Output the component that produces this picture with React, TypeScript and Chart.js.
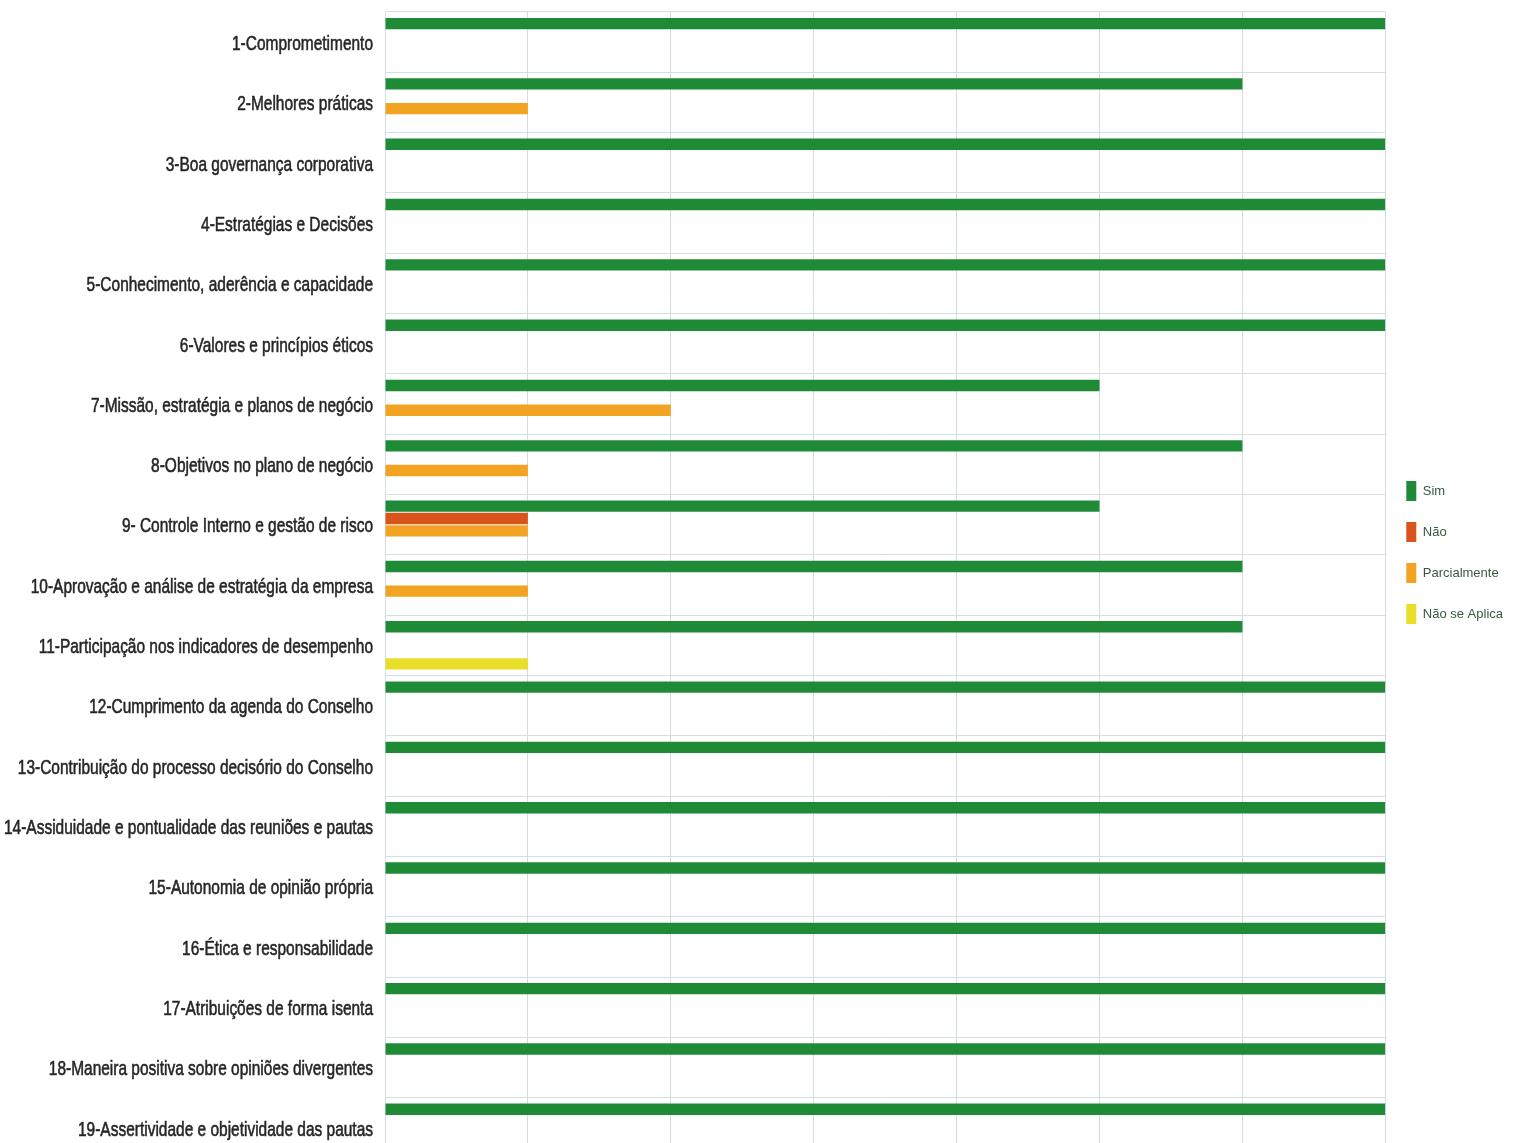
import React, { useEffect, useRef } from "react";
import { Chart, registerables } from "chart.js";

Chart.register(...registerables);

const categories = [
  "1-Comprometimento",
  "2-Melhores práticas",
  "3-Boa governança corporativa",
  "4-Estratégias e Decisões",
  "5-Conhecimento, aderência e capacidade",
  "6-Valores e princípios éticos",
  "7-Missão, estratégia e planos de negócio",
  "8-Objetivos no plano de negócio",
  "9- Controle Interno e gestão de risco",
  "10-Aprovação e análise de estratégia da empresa",
  "11-Participação nos indicadores de desempenho",
  "12-Cumprimento da agenda do Conselho",
  "13-Contribuição do processo decisório do Conselho",
  "14-Assiduidade e pontualidade das reuniões e pautas",
  "15-Autonomia de opinião própria",
  "16-Ética e responsabilidade",
  "17-Atribuições de forma isenta",
  "18-Maneira positiva sobre opiniões divergentes",
  "19-Assertividade e objetividade das pautas",
];

const sim = [7, 6, 7, 7, 7, 7, 5, 6, 5, 6, 6, 7, 7, 7, 7, 7, 7, 7, 7];
const nao = [0, 0, 0, 0, 0, 0, 0, 0, 1, 0, 0, 0, 0, 0, 0, 0, 0, 0, 0];
const parcialmente = [0, 1, 0, 0, 0, 0, 2, 1, 1, 1, 0, 0, 0, 0, 0, 0, 0, 0, 0];
const naoSeAplica = [0, 0, 0, 0, 0, 0, 0, 0, 0, 0, 1, 0, 0, 0, 0, 0, 0, 0, 0];

const seriesNames = ["Sim", "Não", "Parcialmente", "Não se Aplica"];
const seriesColors = ["#1f8b37", "#d9531c", "#f2a322", "#e9de2a"];

const LABEL_FONT = "21px 'Liberation Sans', Arial, sans-serif";

// draws the category labels of the y scale, horizontally condensed like Arial Narrow
const narrowLabels = {
  id: "narrowLabels",
  afterDraw(chart: any) {
    const ctx = chart.ctx;
    const yScale = chart.scales.y;
    const labels: string[] = chart.data.labels;
    ctx.save();
    ctx.font = LABEL_FONT;
    let widest = 0;
    labels.forEach((l) => {
      widest = Math.max(widest, ctx.measureText(l).width);
    });
    const sx = 369 / widest;
    const right = chart.chartArea.left - 12;
    ctx.fillStyle = "#262626";
    ctx.strokeStyle = "#262626";
    ctx.lineWidth = 0.6;
    ctx.textAlign = "right";
    ctx.textBaseline = "middle";
    labels.forEach((l, i) => {
      const y = yScale.getPixelForValue(i) + 2;
      ctx.save();
      ctx.translate(right, y);
      ctx.scale(sx, 1);
      ctx.fillText(l, 0, 0);
      ctx.strokeText(l, 0, 0);
      ctx.restore();
    });
    ctx.restore();
  },
};

export default function App() {
  const ref = useRef<HTMLCanvasElement | null>(null);

  useEffect(() => {
    if (!ref.current) return;
    const values = [sim, nao, parcialmente, naoSeAplica];
    const chart = new Chart(ref.current, {
      type: "bar",
      data: {
        labels: categories,
        datasets: values.map((v, i) => ({
          label: seriesNames[i],
          data: v,
          backgroundColor: seriesColors[i],
          borderColor: seriesColors[i],
          borderWidth: 0,
          categoryPercentage: 0.82,
          barPercentage: 0.92,
        })),
      },
      options: {
        indexAxis: "y",
        animation: false,
        responsive: false,
        devicePixelRatio: 1,
        layout: { padding: { top: 12, bottom: 0, left: 0, right: 0 } },
        scales: {
          x: {
            min: 0,
            max: 7,
            ticks: { display: false, stepSize: 1 },
            grid: { color: "#d3dce3", drawTicks: false },
            border: { color: "#d3dce3" },
          },
          y: {
            ticks: { display: false },
            grid: { color: "#d6dde3", drawTicks: false },
            border: { color: "#d3dce3" },
            afterFit: (scale: any) => {
              scale.width = 385;
            },
          },
        },
        plugins: {
          tooltip: { enabled: false },
          legend: {
            position: "right",
            align: "start",
            title: {
              display: true,
              text: "",
              font: { size: 10, lineHeight: 1 },
              padding: { top: 438, bottom: 0 },
            },
            labels: {
              boxWidth: 10,
              boxHeight: 20,
              padding: 21,
              color: "#355a3e",
              font: { family: "'Liberation Sans', Arial, sans-serif", size: 13 },
            },
          },
        },
      },
      plugins: [narrowLabels],
    });
    return () => chart.destroy();
  }, []);

  return (
    <div
      style={{
        position: "fixed",
        left: 0,
        top: 0,
        width: 1513,
        height: 1143,
        overflow: "hidden",
        background: "#ffffff",
      }}
    >
      <canvas ref={ref} width={1513} height={1158} style={{ width: 1513, height: 1158, display: "block" }} />
    </div>
  );
}
